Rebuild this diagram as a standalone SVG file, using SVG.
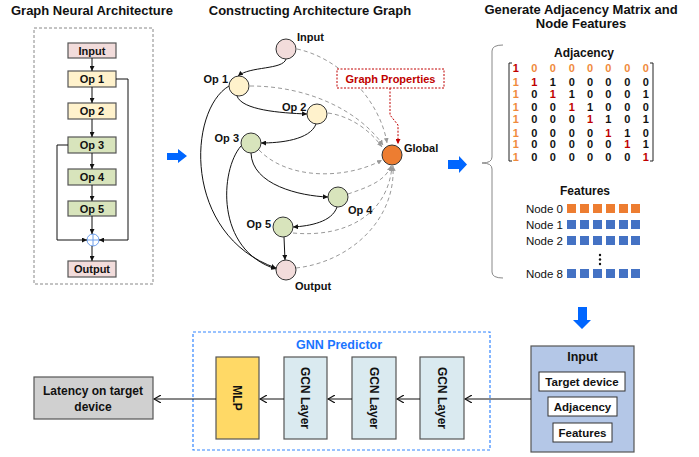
<svg xmlns="http://www.w3.org/2000/svg" width="699" height="457" viewBox="0 0 699 457">
<style>
text{font-family:"Liberation Sans",Arial,sans-serif;font-weight:bold;fill:#111}
.t{font-size:12px;text-anchor:middle}
.tt{font-size:13px;text-anchor:middle}
.bx{stroke:#555;stroke-width:1.2}
.lb{font-size:11px;text-anchor:middle}
.lb2{font-size:11.5px;text-anchor:middle}
.rl{font-size:12px;text-anchor:middle}
.gl{font-size:11px}
.ln{fill:none;stroke:#111;stroke-width:1}
.dl{fill:none;stroke:#999;stroke-width:1;stroke-dasharray:4,3}
.m{font-size:11px;text-anchor:middle}
.o{fill:#F08A3C}
.r{fill:#C00000}
.nd{font-family:"Liberation Sans",Arial,sans-serif;font-weight:normal;font-size:11.5px;text-anchor:end}
.sq0{fill:#ED7D31}
.sq1{fill:#4472C4}
.ba{fill:#0066FF}
</style>
<defs>
<marker id="ah" viewBox="0 0 6 6" refX="6" refY="3" markerWidth="5" markerHeight="5" orient="auto"><path d="M0,0 L6,3 L0,6 z" fill="#111"/></marker>
<marker id="ag" viewBox="0 0 6 6" refX="6" refY="3" markerWidth="5" markerHeight="5" orient="auto"><path d="M0,0 L6,3 L0,6 z" fill="#999"/></marker>
<marker id="ar" viewBox="0 0 6 6" refX="6" refY="3" markerWidth="5" markerHeight="5" orient="auto"><path d="M0,0 L6,3 L0,6 z" fill="#C00000"/></marker>
<marker id="ao" viewBox="0 0 8 8" refX="7" refY="4" markerWidth="8" markerHeight="8" markerUnits="userSpaceOnUse" orient="auto"><path d="M0,0 L7,4 L0,8" fill="none" stroke="#111" stroke-width="1.2"/></marker>
</defs>

<!-- titles -->
<text class="tt" x="92" y="15">Graph Neural Architecture</text>
<text class="tt" x="310" y="15">Constructing Architecture Graph</text>
<text class="tt" x="581" y="14">Generate Adjacency Matrix and</text>
<text class="tt" x="581" y="28">Node Features</text>

<!-- left panel -->
<g id="arch-panel">
<rect x="34" y="28" width="119" height="256" fill="none" stroke="#888" stroke-dasharray="3,2" stroke-width="1"/>
</g>
<g id="arch-input"><rect class="bx" x="68" y="43" width="48" height="15" fill="#F2DCDB"/><text class="lb" x="92" y="54.5">Input</text></g>
<g id="arch-op1"><rect class="bx" x="68" y="71" width="48" height="16" fill="#FFF2CC"/><text class="lb" x="92" y="83">Op 1</text></g>
<g id="arch-op2"><rect class="bx" x="68" y="103" width="48" height="16" fill="#FFF2CC"/><text class="lb" x="92" y="115">Op 2</text></g>
<g id="arch-op3"><rect class="bx" x="68" y="137" width="48" height="16" fill="#D8E4BC"/><text class="lb" x="92" y="149">Op 3</text></g>
<g id="arch-op4"><rect class="bx" x="68" y="169" width="48" height="16" fill="#D8E4BC"/><text class="lb" x="92" y="181">Op 4</text></g>
<g id="arch-op5"><rect class="bx" x="68" y="201" width="48" height="15" fill="#D8E4BC"/><text class="lb" x="92" y="212.5">Op 5</text></g>
<g id="arch-add"><circle cx="93" cy="240" r="6" fill="#fff" stroke="#6D9EEB" stroke-width="1"/><path d="M87,240 H99 M93,234 V246" stroke="#6D9EEB" stroke-width="1"/></g>
<g id="arch-output"><rect class="bx" x="68" y="261" width="48" height="16" fill="#F2DCDB"/><text class="lb" x="92" y="273">Output</text></g>
<g id="arch-connectors">
<path class="ln" d="M92,58 V71" marker-end="url(#ah)"/>
<path class="ln" d="M92,87 V103" marker-end="url(#ah)"/>
<path class="ln" d="M92,119 V137" marker-end="url(#ah)"/>
<path class="ln" d="M92,153 V169" marker-end="url(#ah)"/>
<path class="ln" d="M92,185 V201" marker-end="url(#ah)"/>
<path class="ln" d="M92,216 V234" marker-end="url(#ah)"/>
<path class="ln" d="M92,246 V261" marker-end="url(#ah)"/>
<path class="ln" d="M116,79 H128 V240 H99" marker-end="url(#ah)"/>
<path class="ln" d="M68,145 H57 V240 H87" marker-end="url(#ah)"/>
</g>

<!-- panel arrows -->
<g id="arrow1"><path class="ba" d="M167,153 H178 V149 L187,156 L178,163 V160 H167 z"/></g>
<g id="arrow2"><path class="ba" d="M448,160 H459 V156 L467,164.5 L459,173 V169 H448 z"/></g>
<g id="arrow3"><path class="ba" d="M578,307 H587 V320 H591 L582,329 L573,320 H578 z"/></g>

<!-- graph connectors -->
<g id="graph-connectors">
<path class="dl" d="M297,49 C340,58 380,100 387,143" marker-end="url(#ag)"/>
<path class="dl" d="M250,86 C310,86 360,112 383,145" marker-end="url(#ag)"/>
<path class="dl" d="M328,113 C350,116 370,130 382,147" marker-end="url(#ag)"/>
<path class="dl" d="M259,150 C290,182 350,178 382,160" marker-end="url(#ag)"/>
<path class="dl" d="M348,194 C365,188 385,182 391,166" marker-end="url(#ag)"/>
<path class="dl" d="M293,233 C345,238 388,215 392,166" marker-end="url(#ag)"/>
<path class="dl" d="M296,268 C350,262 396,220 393,166" marker-end="url(#ag)"/>
<path d="M390,88 V115 L398,125 V144" fill="none" stroke="#C00000" stroke-width="1" stroke-dasharray="2,1.5" marker-end="url(#ar)"/>
<path class="ln" d="M286,59 C283,70 250,66 238,76" marker-end="url(#ah)"/>
<path class="ln" d="M237,96 C242,110 280,113 307,114" marker-end="url(#ah)"/>
<path class="ln" d="M316,124 C310,140 280,143 261,143" marker-end="url(#ah)"/>
<path class="ln" d="M251,153 C252,185 300,196 328,197" marker-end="url(#ah)"/>
<path class="ln" d="M337,207 C332,222 310,226 293,227" marker-end="url(#ah)"/>
<path class="ln" d="M284,237 L285,260" marker-end="url(#ah)"/>
<path class="ln" d="M229,86 C188,110 182,235 276,268" marker-end="url(#ah)"/>
<path class="ln" d="M241,146 C220,170 215,250 276,269" marker-end="url(#ah)"/>
</g>

<g id="g-props"><rect x="337" y="69" width="107" height="19" fill="#fff" stroke="#C00000" stroke-width="1" stroke-dasharray="2,1.5"/><text class="gl" x="390.5" y="83" text-anchor="middle" style="fill:#C00000">Graph Properties</text></g>
<g id="g-input"><circle cx="286" cy="49" r="10" fill="#F2DCDB" stroke="#333"/><text class="gl" x="297" y="41">Input</text></g>
<g id="g-op1"><circle cx="239" cy="86" r="10" fill="#FFF2CC" stroke="#333"/><text class="gl" x="228" y="83" text-anchor="end">Op 1</text></g>
<g id="g-op2"><circle cx="317" cy="114" r="10" fill="#FFF2CC" stroke="#333"/><text class="gl" x="282" y="111">Op 2</text></g>
<g id="g-op3"><circle cx="251" cy="143" r="10" fill="#D8E4BC" stroke="#333"/><text class="gl" x="239" y="142" text-anchor="end">Op 3</text></g>
<g id="g-global"><circle cx="392" cy="155" r="10" fill="#ED7D31" stroke="#333"/><text class="gl" x="404" y="152">Global</text></g>
<g id="g-op4"><circle cx="338" cy="197" r="10" fill="#D8E4BC" stroke="#333"/><text class="gl" x="348" y="214">Op 4</text></g>
<g id="g-op5"><circle cx="283" cy="227" r="10" fill="#D8E4BC" stroke="#333"/><text class="gl" x="271" y="228" text-anchor="end">Op 5</text></g>
<g id="g-output"><circle cx="286" cy="270" r="10" fill="#F2DCDB" stroke="#333"/><text class="gl" x="295" y="290">Output</text></g>

<!-- right panel -->
<g id="brace"><path d="M503,45 Q492,45 492,51 V157 Q492,163 482,163 Q492,163 492,169 V272 Q492,278 503,278" fill="none" stroke="#888" stroke-width="1"/></g>
<g id="adjacency">
<text class="t" x="584" y="57">Adjacency</text>
<path d="M512,63 H509 V161 H512 M650,63 H653 V161 H650" fill="none" stroke="#222" stroke-width="1"/>
<g class="m">
<text x="515.7" y="72" class="r">1</text><text x="534.3" y="72" class="o">0</text><text x="552.7" y="72" class="o">0</text><text x="571.7" y="72" class="o">0</text><text x="590" y="72" class="o">0</text><text x="608.3" y="72" class="o">0</text><text x="627.3" y="72" class="o">0</text><text x="645.7" y="72" class="o">0</text>
<text x="515.7" y="86" class="o">1</text><text x="534.3" y="86" class="r">1</text><text x="552.7" y="86">1</text><text x="571.7" y="86">0</text><text x="590" y="86">0</text><text x="608.3" y="86">0</text><text x="627.3" y="86">0</text><text x="645.7" y="86">0</text>
<text x="515.7" y="98" class="o">1</text><text x="534.3" y="98">0</text><text x="552.7" y="98" class="r">1</text><text x="571.7" y="98">1</text><text x="590" y="98">0</text><text x="608.3" y="98">0</text><text x="627.3" y="98">0</text><text x="645.7" y="98">1</text>
<text x="515.7" y="111" class="o">1</text><text x="534.3" y="111">0</text><text x="552.7" y="111">0</text><text x="571.7" y="111" class="r">1</text><text x="590" y="111">1</text><text x="608.3" y="111">0</text><text x="627.3" y="111">0</text><text x="645.7" y="111">0</text>
<text x="515.7" y="123" class="o">1</text><text x="534.3" y="123">0</text><text x="552.7" y="123">0</text><text x="571.7" y="123">0</text><text x="590" y="123" class="r">1</text><text x="608.3" y="123">1</text><text x="627.3" y="123">0</text><text x="645.7" y="123">1</text>
<text x="515.7" y="137" class="o">1</text><text x="534.3" y="137">0</text><text x="552.7" y="137">0</text><text x="571.7" y="137">0</text><text x="590" y="137">0</text><text x="608.3" y="137" class="r">1</text><text x="627.3" y="137">1</text><text x="645.7" y="137">0</text>
<text x="515.7" y="148" class="o">1</text><text x="534.3" y="148">0</text><text x="552.7" y="148">0</text><text x="571.7" y="148">0</text><text x="590" y="148">0</text><text x="608.3" y="148">0</text><text x="627.3" y="148" class="r">1</text><text x="645.7" y="148">1</text>
<text x="515.7" y="161" class="o">1</text><text x="534.3" y="161">0</text><text x="552.7" y="161">0</text><text x="571.7" y="161">0</text><text x="590" y="161">0</text><text x="608.3" y="161">0</text><text x="627.3" y="161">0</text><text x="645.7" y="161" class="r">1</text>
</g>
</g>
<g id="features">
<text class="t" x="585" y="195">Features</text>
<text class="nd" x="563" y="213">Node 0</text>
<text class="nd" x="563" y="229">Node 1</text>
<text class="nd" x="563" y="245">Node 2</text>
<text class="nd" x="563" y="278">Node 8</text>
<g class="sq0"><rect x="567" y="204" width="9" height="9"/><rect x="580" y="204" width="9" height="9"/><rect x="593" y="204" width="9" height="9"/><rect x="606" y="204" width="9" height="9"/><rect x="619" y="204" width="9" height="9"/><rect x="631" y="204" width="9" height="9"/></g>
<g class="sq1"><rect x="567" y="220" width="9" height="9"/><rect x="580" y="220" width="9" height="9"/><rect x="593" y="220" width="9" height="9"/><rect x="606" y="220" width="9" height="9"/><rect x="619" y="220" width="9" height="9"/><rect x="631" y="220" width="9" height="9"/>
<rect x="567" y="236" width="9" height="9"/><rect x="580" y="236" width="9" height="9"/><rect x="593" y="236" width="9" height="9"/><rect x="606" y="236" width="9" height="9"/><rect x="619" y="236" width="9" height="9"/><rect x="631" y="236" width="9" height="9"/>
<rect x="567" y="269" width="9" height="9"/><rect x="580" y="269" width="9" height="9"/><rect x="593" y="269" width="9" height="9"/><rect x="606" y="269" width="9" height="9"/><rect x="619" y="269" width="9" height="9"/><rect x="631" y="269" width="9" height="9"/></g>
<circle cx="600" cy="255" r="1.2" fill="#111"/><circle cx="600" cy="259.5" r="1.2" fill="#111"/><circle cx="600" cy="264" r="1.2" fill="#111"/>
</g>

<!-- bottom -->
<g id="gnn-predictor"><rect x="193" y="332" width="297" height="118" fill="none" stroke="#3385FF" stroke-width="1.2" stroke-dasharray="3,2"/><text x="339" y="349" style="fill:#1A75FF;font-size:12.5px;text-anchor:middle">GNN Predictor</text></g>
<g id="latency"><rect class="bx" x="34" y="377" width="119" height="42" fill="#D0D0D0"/><text class="t" x="93" y="395">Latency on target</text><text class="t" x="93" y="411">device</text></g>
<g id="mlp"><rect class="bx" x="216" y="357" width="43" height="82" fill="#FFD966"/><text class="rl" transform="translate(237.5,398) rotate(90)" y="4.5">MLP</text></g>
<g id="gcn1"><rect class="bx" x="284" y="357" width="43" height="82" fill="#DAEAF0"/><text class="rl" transform="translate(305.5,398) rotate(90)" y="4.5">GCN Layer</text></g>
<g id="gcn2"><rect class="bx" x="352" y="357" width="44" height="82" fill="#DAEAF0"/><text class="rl" transform="translate(374,398) rotate(90)" y="4.5">GCN Layer</text></g>
<g id="gcn3"><rect class="bx" x="420" y="357" width="44" height="82" fill="#DAEAF0"/><text class="rl" transform="translate(442,398) rotate(90)" y="4.5">GCN Layer</text></g>
<g id="input-box"><rect class="bx" x="531" y="346" width="103" height="106" fill="#B4C7E7"/><text class="t" x="582.5" y="361" style="font-size:12.5px">Input</text>
<rect x="539" y="372" width="86" height="19" fill="#fff" stroke="#333" stroke-width="1"/><text class="lb2" x="582" y="385.5">Target device</text>
<rect x="548" y="397" width="69" height="19" fill="#fff" stroke="#333" stroke-width="1"/><text class="lb2" x="582.5" y="410.5">Adjacency</text>
<rect x="553" y="423" width="59" height="19" fill="#fff" stroke="#333" stroke-width="1"/><text class="lb2" x="582.5" y="436.5">Features</text></g>
<g id="bottom-connectors">
<path class="ln" d="M531,399 H465" marker-end="url(#ao)"/>
<path class="ln" d="M420,399 H397" marker-end="url(#ao)"/>
<path class="ln" d="M352,399 H328" marker-end="url(#ao)"/>
<path class="ln" d="M284,399 H260" marker-end="url(#ao)"/>
<path class="ln" d="M216,399 H154" marker-end="url(#ao)"/>
</g>
</svg>
